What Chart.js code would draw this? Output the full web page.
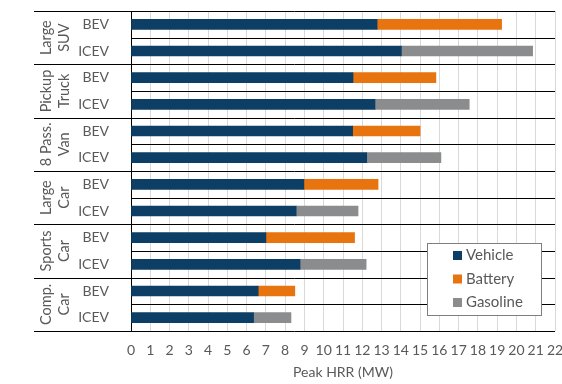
<!DOCTYPE html>
<html>
<head>
<meta charset="utf-8">
<script src="https://cdn.jsdelivr.net/npm/chart.js@4.4.1/dist/chart.umd.min.js"></script>
<style>
  html, body { margin: 0; padding: 0; background: #fff; }
  #wrap { width: 562px; height: 384px; position: relative; }
</style>
</head>
<body>
<div id="wrap"><canvas id="chart" width="562" height="384"></canvas></div>
<script>
// vehicle groups, two lines each as in the reference
const groupNames = [
    ['Large', 'SUV'],
    ['Pickup', 'Truck'],
    ['8 Pass.', 'Van'],
    ['Large', 'Car'],
    ['Sports', 'Car'],
    ['Comp.', 'Car']
];
const rowTypes = ['BEV', 'ICEV'];
const rowLabels = groupNames.flatMap(() => rowTypes);

// peak HRR contributions (MW), one value per row
const vehicleValues  = [12.77, 14.03, 11.52, 12.66, 11.5, 12.23, 8.97, 8.57, 7.0, 8.77, 6.6, 6.36];
const batteryValues  = [6.46, null, 4.30, null, 3.5, null, 3.85, null, 4.6, null, 1.9, null];
const gasolineValues = [null, 6.81, null, 4.89, null, 3.85, null, 3.21, null, 3.43, null, 1.94];

const xMin = 0;
const xMax = 22;

const textColor = '#595959';
const fontFamily = 'Lato, "Open Sans", sans-serif';

// y of the border between row i-1 and row i
const rowEdge = (chart, i) => {
    const y = chart.scales.y;
    const n = rowLabels.length;
    if (i <= 0) return chart.chartArea.top;
    if (i >= n) return chart.chartArea.bottom;
    return (y.getPixelForValue(i - 1) + y.getPixelForValue(i)) / 2;
};

const rowLinesPlugin = {
    id: 'rowLines',
    beforeDatasetsDraw(chart) {
        const ctx = chart.ctx;
        const area = chart.chartArea;
        ctx.save();
        ctx.strokeStyle = '#000';
        ctx.lineWidth = 1;
        for (let i = 0; i <= rowLabels.length; i++) {
            const yy = Math.round(rowEdge(chart, i)) + 0.5;
            // group borders run out under the group labels
            const startX = (i % rowTypes.length === 0) ? area.left - 97 : area.left;
            ctx.beginPath();
            ctx.moveTo(startX, yy);
            ctx.lineTo(area.right, yy);
            ctx.stroke();
        }
        ctx.restore();
    }
};

const groupLabelPlugin = {
    id: 'groupLabels',
    afterDraw(chart) {
        const ctx = chart.ctx;
        const area = chart.chartArea;
        ctx.save();
        ctx.fillStyle = textColor;
        ctx.font = '14.5px ' + fontFamily;
        ctx.textAlign = 'center';
        ctx.textBaseline = 'middle';
        groupNames.forEach((lines, g) => {
            const top = rowEdge(chart, g * rowTypes.length);
            const bottom = rowEdge(chart, (g + 1) * rowTypes.length);
            const cy = (top + bottom) / 2;
            lines.forEach((txt, k) => {
                ctx.save();
                ctx.translate(area.left - 85 + k * 18, cy);
                ctx.rotate(-Math.PI / 2);
                ctx.fillText(txt, 0, 0);
                ctx.restore();
            });
        });
        ctx.restore();
    }
};

const boxLegendPlugin = {
    id: 'boxLegend',
    afterDraw(chart) {
        const ctx = chart.ctx;
        const area = chart.chartArea;
        const boxX = area.right - 128;
        const boxY = area.bottom - 88;
        const boxW = 114;
        const boxH = 72;
        ctx.save();
        ctx.fillStyle = '#fff';
        ctx.fillRect(boxX, boxY, boxW, boxH);
        ctx.strokeStyle = '#7f7f7f';
        ctx.lineWidth = 1;
        ctx.strokeRect(Math.round(boxX) + 0.5, Math.round(boxY) + 0.5, boxW, boxH);
        ctx.font = '15px ' + fontFamily;
        ctx.textBaseline = 'middle';
        ctx.textAlign = 'left';
        chart.data.datasets.forEach((ds, i) => {
            const cy = boxY + 12.5 + i * 23.5;
            ctx.fillStyle = ds.backgroundColor;
            ctx.fillRect(boxX + 26, cy - 4.5, 9, 9);
            ctx.fillStyle = textColor;
            ctx.fillText(ds.label, boxX + 39, cy);
        });
        ctx.restore();
    }
};

const ctx = document.getElementById('chart').getContext('2d');
new Chart(ctx, {
    type: 'bar',
    data: {
        labels: rowLabels,
        datasets: [
            { label: 'Vehicle',  data: vehicleValues,  backgroundColor: '#0d3e66' },
            { label: 'Battery',  data: batteryValues,  backgroundColor: '#e8740f' },
            { label: 'Gasoline', data: gasolineValues, backgroundColor: '#8b8c8e' }
        ]
    },
    options: {
        indexAxis: 'y',
        responsive: false,
        devicePixelRatio: 1,
        animation: false,
        barThickness: 10,
        layout: {
            padding: { left: 0, top: 11, right: 7, bottom: 0 }
        },
        scales: {
            x: {
                stacked: true,
                min: xMin,
                max: xMax,
                afterFit: (scale) => {
                    scale.height = 53;
                    scale.paddingLeft = 0;
                    scale.paddingRight = 0;
                },
                grid: { color: '#d9d9d9', drawTicks: false },
                border: { display: false },
                ticks: {
                    stepSize: 1,
                    autoSkip: false,
                    maxRotation: 0,
                    padding: 11,
                    color: textColor,
                    font: { size: 14, family: fontFamily }
                },
                title: {
                    display: true,
                    text: 'Peak HRR (MW)',
                    color: textColor,
                    font: { size: 14, family: fontFamily },
                    padding: { top: 3, bottom: 3 }
                }
            },
            y: {
                stacked: true,
                afterFit: (scale) => {
                    scale.width = 131;
                    scale.paddingTop = 0;
                    scale.paddingBottom = 0;
                },
                grid: { display: false },
                border: { display: true, color: '#000', width: 1 },
                ticks: {
                    padding: 14,
                    color: textColor,
                    font: { size: 14, family: fontFamily }
                }
            }
        },
        plugins: {
            legend: { display: false },
            tooltip: { enabled: false }
        }
    },
    plugins: [rowLinesPlugin, groupLabelPlugin, boxLegendPlugin]
});
</script>
</body>
</html>
